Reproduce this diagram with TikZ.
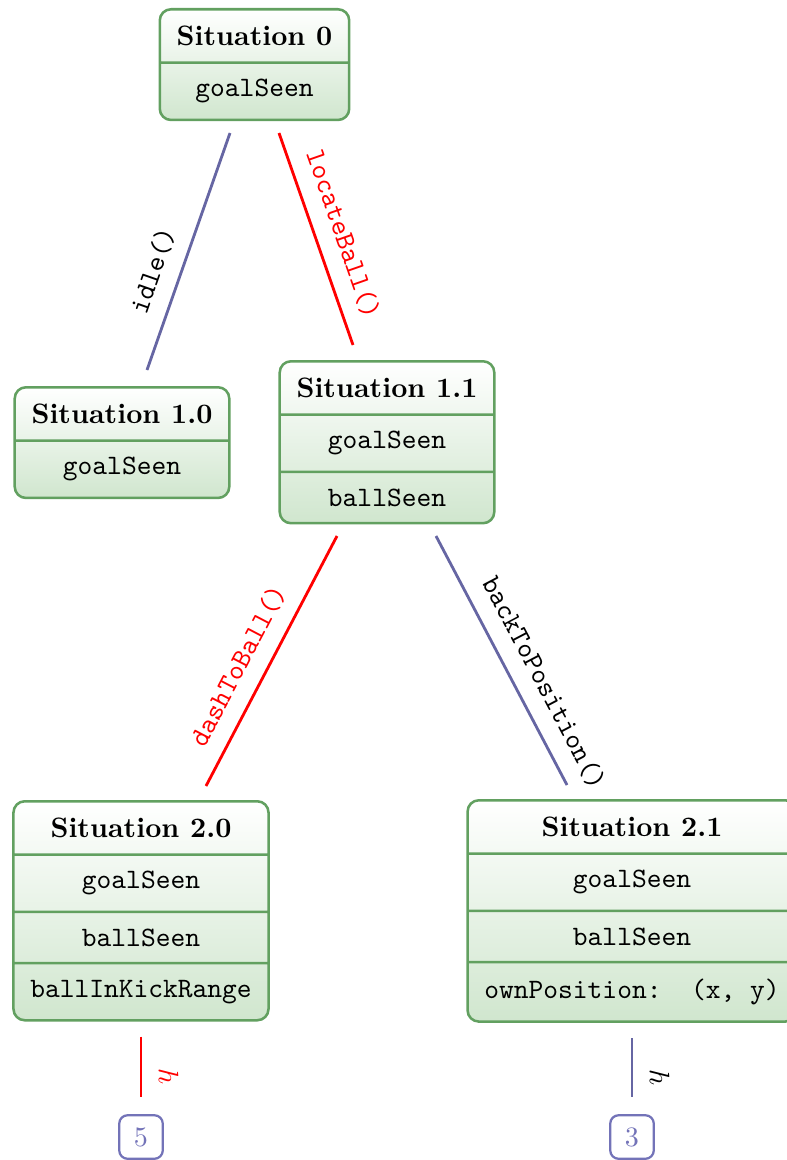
\documentclass[tikz,border=0pt]{standalone}
\usetikzlibrary{shapes.multipart}
\definecolor{boxgreen}{RGB}{98,160,96}
\definecolor{boxfill}{RGB}{208,230,206}
\definecolor{edgeblue}{RGB}{102,102,163}
\definecolor{numblue}{RGB}{115,115,184}
\begin{document}
\begin{tikzpicture}[x=0.3558pt,y=-0.3558pt,
  sit/.style={rectangle split, draw=boxgreen, line width=0.9pt,
    rounded corners=4pt, top color=white, bottom color=boxfill,
    inner xsep=6pt, inner ysep=5.5pt, anchor=north},
  act/.style={line width=1pt},
  chosen/.style={act, red},
  other/.style={act, edgeblue},
  lab/.style={sloped, above=2pt, font=\ttfamily},
  hlab/.style={sloped, above=2.5pt},
  numbox/.style={draw=numblue, text=numblue, rounded corners=3pt,
    line width=0.8pt, minimum size=15.5pt, inner sep=0pt}
]
\path[use as bounding box, clip] (0,0) rectangle (787,1160);

% situation boxes
\node[sit, rectangle split parts=2] (s0) at (254.5,8)
  {\textbf{Situation 0}\nodepart{two}\texttt{goalSeen}};
\node[sit, rectangle split parts=2] (s10) at (122,386)
  {\textbf{Situation 1.0}\nodepart{two}\texttt{goalSeen}};
\node[sit, rectangle split parts=3] (s11) at (387,360)
  {\textbf{Situation 1.1}\nodepart{two}\texttt{goalSeen}\nodepart{three}\texttt{ballSeen}};
\node[sit, rectangle split parts=4] (s20) at (141,800)
  {\textbf{Situation 2.0}\nodepart{two}\texttt{goalSeen}\nodepart{three}\texttt{ballSeen}\nodepart{four}\texttt{ballInKickRange}};
\node[sit, rectangle split parts=4] (s21) at (632,799)
  {\textbf{Situation 2.1}\nodepart{two}\texttt{goalSeen}\nodepart{three}\texttt{ballSeen}\nodepart{four}\texttt{ownPosition:\ \ (x, y)}};

% leaf markers
\node[numbox] (n5) at (141,1137) {5};
\node[numbox] (n3) at (632,1137) {3};

% edge end points
\coordinate (a0) at (230,133);  \coordinate (a1) at (147,370);
\coordinate (b0) at (279,133);  \coordinate (b1) at (353,345);
\coordinate (c0) at (337,536);  \coordinate (c1) at (206,786);
\coordinate (d0) at (436,536);  \coordinate (d1) at (567,785);

% actions
\draw[other] (a0) -- node[lab, pos=0.62, text=black] {idle()} (a1);
\draw[chosen] (b0) -- node[lab, pos=0.52, text=red] {locateBall()} (b1);
\draw[chosen] (c0) -- node[lab, pos=0.57, text=red] {dashToBall()} (c1);
\draw[other] (d0) -- node[lab, pos=0.64, text=black] {backToPosition()} (d1);

% heuristic links
\draw[chosen, shorten <=5.4pt, shorten >=6pt] (s20.south) -- node[hlab, pos=0.6, text=red] {$h$} (n5.north);
\draw[other, shorten <=5.4pt, shorten >=6pt] (s21.south) -- node[hlab, pos=0.6, text=black] {$h$} (n3.north);
\end{tikzpicture}
\end{document}
